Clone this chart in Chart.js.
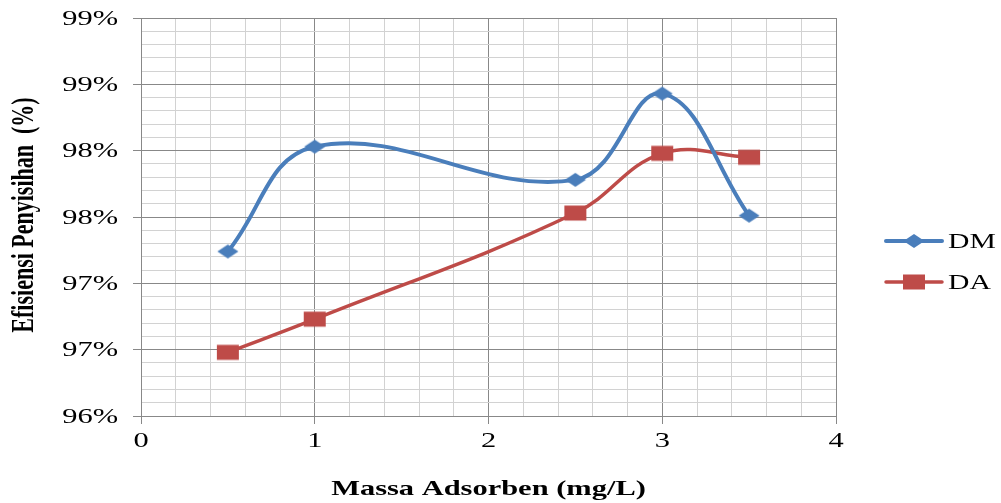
<!DOCTYPE html>
<html>
<head>
<meta charset="utf-8">
<title>Efisiensi Penyisihan</title>
<script src="https://cdn.jsdelivr.net/npm/chart.js@4.4.0/dist/chart.umd.min.js"></script>
<style>
  html, body { margin: 0; padding: 0; background: #fff; }
  #wrap { width: 1001px; height: 503px; }
</style>
</head>
<body>
<div id="wrap"><canvas id="myChart"></canvas></div>
<script>
// Data
const massa = [0.5, 1, 2.5, 3, 3.5];
const dmValues = [97.24, 98.03, 97.78, 98.43, 97.51];
const daValues = [96.48, 96.73, 97.53, 97.98, 97.95];
const seriesNames = ['DM', 'DA'];

// Axis ticks (labels only on the major ones)
const xTicks = [0, 1, 2, 3, 4];
const xLabels = ['0', '1', '2', '3', '4'];
const yTicks = [96, 96.5, 97, 97.5, 98, 98.5, 99];
const yLabels = ['96%', '97%', '97%', '98%', '98%', '99%', '99%'];

const BLUE = '#4a7ebb';
const RED = '#be4b48';
const MAJOR = '#888888';
const MINOR = '#d2d2d2';
const STRETCH = 1.45; // text is drawn wide

function findTick(list, v) {
    return list.findIndex(t => Math.abs(t - v) < 1e-6);
}

// Marker images
function makeMarker(shape, color) {
    const c = document.createElement('canvas');
    c.width = 24;
    c.height = 18;
    const g = c.getContext('2d');
    g.fillStyle = color;
    if (shape === 'diamond') {
        g.beginPath();
        g.moveTo(1.5, 9);
        g.lineTo(12, 2);
        g.lineTo(22.5, 9);
        g.lineTo(12, 16);
        g.closePath();
        g.fill();
    } else {
        g.fillRect(1, 1.5, 22, 15);
    }
    return c;
}
const diamond = makeMarker('diamond', BLUE);
const square = makeMarker('square', RED);

function drawText(ctx, text, x, y, font, align, rotate, sx) {
    ctx.save();
    ctx.translate(x, y);
    ctx.scale(sx || STRETCH, 1);
    if (rotate) ctx.rotate(rotate);
    ctx.font = font;
    ctx.fillStyle = '#000';
    ctx.textAlign = align;
    ctx.textBaseline = 'middle';
    ctx.fillText(text, 0, 0);
    ctx.restore();
}

// Tick labels, titles and legend
const textPlugin = {
    id: 'textPlugin',
    afterDraw(chart) {
        const ctx = chart.ctx;
        const area = chart.chartArea;
        const xs = chart.scales.x;
        const ys = chart.scales.y;
        const tickFont = '21px "Liberation Serif"';

        yTicks.forEach((v, i) => {
            drawText(ctx, yLabels[i], area.left - 23, ys.getPixelForValue(v) + 1, tickFont, 'right');
        });
        xTicks.forEach((v, i) => {
            drawText(ctx, xLabels[i], xs.getPixelForValue(v), area.bottom + 25, tickFont, 'center');
        });

        drawText(ctx, 'Massa Adsorben (mg/L)', (area.left + area.right) / 2, 490,
            'bold 21px "Liberation Serif"', 'center');
        drawText(ctx, 'Efisiensi Penyisihan  (%)', 25, 215,
            'bold 22px "Liberation Serif"', 'center', -Math.PI / 2, 1.4);

        // legend
        chart.data.datasets.forEach((ds, i) => {
            const y = 241 + i * 41;
            ctx.save();
            ctx.strokeStyle = ds.borderColor;
            ctx.lineWidth = ds.borderWidth;
            ctx.lineCap = 'round';
            ctx.beginPath();
            ctx.moveTo(886, y);
            ctx.lineTo(942, y);
            ctx.stroke();
            const img = ds.pointStyle;
            ctx.drawImage(img, 914 - img.width / 2, y - img.height / 2);
            ctx.restore();
            drawText(ctx, ds.label, 948, y + 1, '22px "Liberation Serif"', 'left', 0, 1.35);
        });
    }
};

const data = {
    datasets: [{
        label: seriesNames[0],
        data: massa.map((m, i) => ({ x: m, y: dmValues[i] })),
        borderColor: BLUE,
        backgroundColor: BLUE,
        borderWidth: 4,
        pointStyle: diamond,
        tension: 0.4
    }, {
        label: seriesNames[1],
        data: massa.map((m, i) => ({ x: m, y: daValues[i] })),
        borderColor: RED,
        backgroundColor: RED,
        borderWidth: 3.5,
        pointStyle: square,
        tension: 0.4
    }]
};

const config = {
    type: 'line',
    data: data,
    plugins: [textPlugin],
    options: {
        responsive: true,
        maintainAspectRatio: false,
        animation: false,
        layout: {
            padding: { top: 18, right: 165, left: 0, bottom: 0 }
        },
        plugins: {
            legend: { display: false },
            tooltip: { enabled: false }
        },
        scales: {
            x: {
                type: 'linear',
                min: 0,
                max: 4,
                afterFit: s => { s.height = 87; },
                ticks: {
                    stepSize: 0.2,
                    display: false
                },
                grid: {
                    color: c => findTick(xTicks, c.tick.value) >= 0 ? MAJOR : MINOR,
                    tickColor: c => findTick(xTicks, c.tick.value) >= 0 ? MAJOR : 'rgba(0,0,0,0)',
                    tickLength: 8
                },
                border: { color: MAJOR }
            },
            y: {
                min: 96,
                max: 99,
                afterFit: s => { s.width = 141; },
                ticks: {
                    stepSize: 0.1,
                    display: false
                },
                grid: {
                    color: c => findTick(yTicks, c.tick.value) >= 0 ? MAJOR : MINOR,
                    tickColor: c => findTick(yTicks, c.tick.value) >= 0 ? MAJOR : 'rgba(0,0,0,0)',
                    tickLength: 8
                },
                border: { color: MAJOR }
            }
        }
    }
};

const myChart = new Chart(document.getElementById('myChart'), config);
</script>
</body>
</html>
